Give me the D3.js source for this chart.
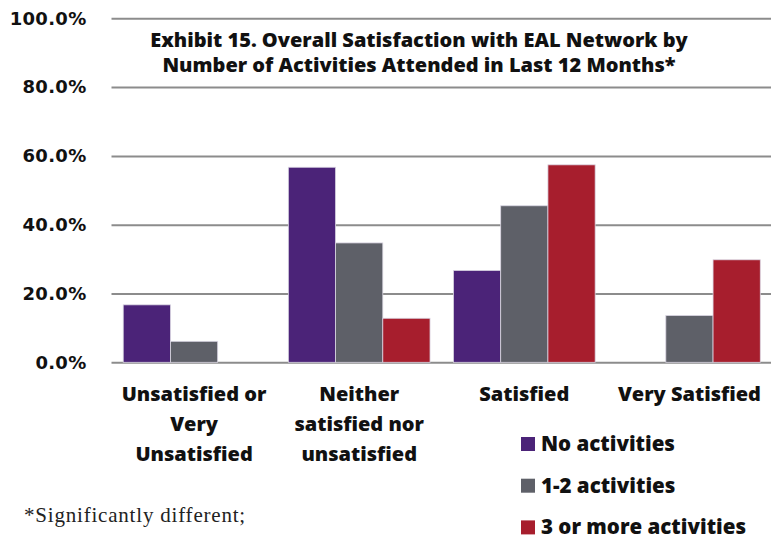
<!DOCTYPE html>
<html>
<head>
<meta charset="utf-8">
<script src="https://cdn.jsdelivr.net/npm/d3@7"></script>
<style>
  body { margin: 0; background: #fff; }
  svg { display: block; }
  .grid line { stroke: #8c8c8c; stroke-width: 2; }
  .grid path { display: none; }
  .grid text { font-family: "DejaVu Sans", Verdana, sans-serif; font-weight: bold; font-size: 18px; fill: #111; letter-spacing: 0.3px; }
  .ttl { font-family: "Open Sans", Roboto, sans-serif; font-weight: 800; font-size: 20px; fill: #111; }
  .cat { font-family: "Open Sans", Roboto, sans-serif; font-weight: 800; font-size: 20px; fill: #111; }
  .leg { font-family: "Open Sans", Roboto, sans-serif; font-weight: 800; font-size: 20.5px; fill: #111; }
  .note { font-family: "Liberation Serif", "DejaVu Serif", serif; font-size: 21px; fill: #222; letter-spacing: 0.8px; }
</style>
</head>
<body>
<div id="chart"></div>
<script>
// data (percent)
var categories = ["Unsatisfied or Very Unsatisfied", "Neither satisfied nor unsatisfied", "Satisfied", "Very Satisfied"];
var categoryLines = [["Unsatisfied or", "Very", "Unsatisfied"], ["Neither", "satisfied nor", "unsatisfied"], ["Satisfied"], ["Very Satisfied"]];
var seriesNames = ["No activities", "1-2 activities", "3 or more activities"];
var noActivities = [16.7, 56.7, 26.7, 0];
var oneTwoActivities = [6.1, 34.7, 45.5, 13.6];
var threePlusActivities = [0, 12.8, 57.4, 29.8];
var yTicks = [0, 20, 40, 60, 80, 100];
var titleLines = ["Exhibit 15. Overall Satisfaction with EAL Network by", "Number of Activities Attended in Last 12 Months*"];
var footnote = "*Significantly different;";

var colors = ["#4b2378", "#5e6068", "#a71e2d"];
var seriesValues = [noActivities, oneTwoActivities, threePlusActivities];

const W = 771, H = 539;
const plot = { left: 111.5, right: 772, top: 18.3, bottom: 362.3 };

var svg = d3.select("#chart").append("svg")
  .attr("width", W)
  .attr("height", H);

var x = d3.scaleBand()
  .domain(categories)
  .range([plot.left, plot.right])
  .paddingInner(0.142)
  .paddingOuter(0.071);

var xs = d3.scaleBand()
  .domain(seriesNames)
  .range([0, x.bandwidth()]);

var y = d3.scaleLinear()
  .domain([0, 100])
  .range([plot.bottom, plot.top]);

// gridlines + y labels
svg.append("g")
  .attr("class", "grid")
  .attr("transform", "translate(" + plot.left + ",0)")
  .call(d3.axisLeft(y)
    .tickValues(yTicks)
    .tickSize(-(W - plot.left))
    .tickPadding(25)
    .tickFormat(function(d) { return d.toFixed(1) + "%"; }));

// bars
var rows = [];
categories.forEach(function(c, i) {
  seriesNames.forEach(function(s, j) {
    rows.push({ cat: c, ser: s, val: seriesValues[j][i], col: colors[j] });
  });
});

svg.append("g").selectAll("rect")
  .data(rows.filter(function(d) { return d.val > 0; }))
  .enter()
  .append("rect")
  .attr("x", function(d) { return x(d.cat) + xs(d.ser); })
  .attr("y", function(d) { return y(d.val); })
  .attr("width", xs.bandwidth())
  .attr("height", function(d) { return y(0) - y(d.val); })
  .attr("fill", function(d) { return d.col; })
  .attr("stroke", "#d9d5e2")
  .attr("stroke-width", 0.8);

// title (one text, two lines)
svg.append("text")
  .attr("class", "ttl")
  .attr("text-anchor", "middle")
  .attr("y", 46.5)
  .selectAll("tspan")
  .data(titleLines)
  .enter()
  .append("tspan")
  .attr("x", 419)
  .attr("dy", function(d, i) { return i === 0 ? 0 : 25; })
  .text(function(d) { return d; });

// category labels
categories.forEach(function(c, i) {
  svg.append("text")
    .attr("class", "cat")
    .attr("text-anchor", "middle")
    .attr("x", x(c) + x.bandwidth() / 2)
    .attr("y", 401)
    .selectAll("tspan")
    .data(categoryLines[i])
    .enter()
    .append("tspan")
    .attr("x", x(c) + x.bandwidth() / 2)
    .attr("dy", function(d, k) { return k === 0 ? 0 : 30; })
    .text(function(d) { return d; });
});

// legend
var leg = svg.append("g").attr("transform", "translate(521,437)");
var li = leg.selectAll("g")
  .data(seriesNames)
  .enter()
  .append("g")
  .attr("transform", function(d, i) { return "translate(0," + i * 41.7 + ")"; });
li.append("rect")
  .attr("width", 14)
  .attr("height", 14)
  .attr("fill", function(d, i) { return colors[i]; });
li.append("text")
  .attr("class", "leg")
  .attr("x", 20)
  .attr("y", 14)
  .text(function(d) { return d; });

// footnote
svg.append("text")
  .attr("class", "note")
  .attr("x", 24)
  .attr("y", 521.5)
  .text(footnote);
</script>
</body>
</html>
